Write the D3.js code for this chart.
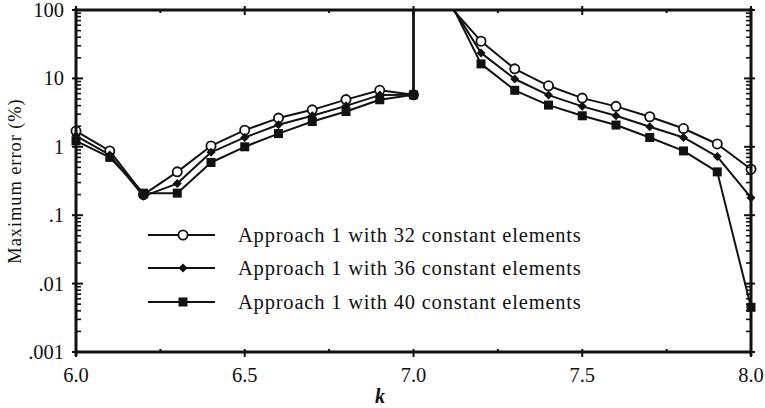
<!DOCTYPE html>
<html>
<head>
<meta charset="utf-8">
<script src="https://cdn.jsdelivr.net/npm/d3@7/dist/d3.min.js"></script>
<style>
  html, body { margin: 0; padding: 0; background: #fff; }
  svg text { font-family: "Liberation Serif", "Times New Roman", serif; fill: #111; }
</style>
</head>
<body>
<svg id="chart" width="765" height="408"></svg>
<script>
// Wave number k, sampled every 0.1
const kValues = [6.0, 6.1, 6.2, 6.3, 6.4, 6.5, 6.6, 6.7, 6.8, 6.9, 7.0,
                 7.1, 7.2, 7.3, 7.4, 7.5, 7.6, 7.7, 7.8, 7.9, 8.0];

// Maximum error (%) for each element count
const err32 = [1.7, 0.87, 0.2, 0.43, 1.03, 1.75, 2.63, 3.47, 4.9, 6.7, 5.75,
               125, 35, 13.8, 7.8, 5.15, 3.9, 2.75, 1.85, 1.1, 0.47];
const err36 = [1.45, 0.76, 0.19, 0.29, 0.83, 1.37, 2.1, 2.84, 3.97, 5.7, 5.75,
               145, 23.6, 9.8, 5.7, 3.9, 2.84, 1.96, 1.37, 0.72, 0.18];
const err40 = [1.22, 0.70, 0.21, 0.21, 0.59, 1.0, 1.56, 2.34, 3.28, 4.87, 5.75,
               160, 16.3, 6.7, 4.07, 2.84, 2.08, 1.37, 0.87, 0.43, 0.0045];

// Resonance at k = 7.0: the error blows up just past this point
const poleK = 7.0;
const poleValue = 1e5;

const seriesNames = ["Approach 1 with 32 constant elements",
                     "Approach 1 with 36 constant elements",
                     "Approach 1 with 40 constant elements"];
const seriesSymbols = ["circle", "diamond", "square"];

const yTickValues = [0.001, 0.01, 0.1, 1, 10, 100];
const yTickLabels = [".001", ".01", ".1", "1", "10", "100"];
const xTickValues = [6.0, 6.5, 7.0, 7.5, 8.0];
const xTickLabels = ["6.0", "6.5", "7.0", "7.5", "8.0"];

const svg = d3.select("#chart");
const pLeft = 76, pRight = 751, pTop = 10, pBottom = 352;

const x = d3.scaleLinear().domain([6, 8]).range([pLeft, pRight]);
const y = d3.scaleLog().domain([0.001, 100]).range([pBottom, pTop]);

svg.append("defs").append("clipPath").attr("id", "plotClip")
  .append("rect").attr("x", pLeft - 8).attr("y", pTop).attr("width", pRight - pLeft + 16).attr("height", pBottom - pTop);

const series = [err32, err36, err40].map((vals, i) => ({
  name: seriesNames[i],
  symbol: seriesSymbols[i],
  points: kValues.map((k, j) => ({ k, v: vals[j] }))
}));

// Line path including the jump to the pole at k = 7.0
function pathPoints(points) {
  const out = [];
  points.forEach(p => {
    out.push(p);
    if (p.k === poleK) out.push({ k: poleK, v: poleValue, pole: true });
  });
  return out;
}

const line = d3.line().x(d => x(d.k)).y(d => y(d.v));

const plot = svg.append("g").attr("clip-path", "url(#plotClip)");

series.forEach(s => {
  plot.append("path")
    .datum(pathPoints(s.points))
    .attr("d", line)
    .attr("fill", "none")
    .attr("stroke", "#111")
    .attr("stroke-width", 2)
    .attr("stroke-linejoin", "round");
});

function drawSymbol(g, type, cx, cy) {
  if (type === "circle") {
    g.append("circle").attr("cx", cx).attr("cy", cy).attr("r", 4.6)
      .attr("fill", "#fff").attr("stroke", "#111").attr("stroke-width", 1.8);
  } else if (type === "diamond") {
    g.append("path")
      .attr("d", "M0,-4.5L4.5,0L0,4.5L-4.5,0Z")
      .attr("transform", `translate(${cx},${cy})`)
      .attr("fill", "#111");
  } else {
    g.append("rect").attr("x", cx - 4.5).attr("y", cy - 4.5).attr("width", 9).attr("height", 9)
      .attr("fill", "#111");
  }
}

series.forEach(s => {
  const g = plot.append("g");
  s.points.forEach(p => drawSymbol(g, s.symbol, x(p.k), y(p.v)));
});

// Frame
const axes = svg.append("g").attr("stroke", "#111").attr("fill", "none");
axes.append("line").attr("x1", pLeft).attr("x2", pRight).attr("y1", pBottom).attr("y2", pBottom).attr("stroke-width", 3);
axes.append("line").attr("x1", pLeft).attr("x2", pRight).attr("y1", pTop).attr("y2", pTop).attr("stroke-width", 3);
axes.append("line").attr("x1", pLeft).attr("x2", pLeft).attr("y1", pTop - 2).attr("y2", pBottom + 4).attr("stroke-width", 3);
axes.append("line").attr("x1", pRight).attr("x2", pRight).attr("y1", pTop - 2).attr("y2", pBottom + 4).attr("stroke-width", 3);

// Log minor ticks on both vertical axes
const minorY = [];
for (let d = -3; d < 2; d++) for (let m = 2; m <= 9; m++) minorY.push(m * Math.pow(10, d));

[pLeft, pRight].forEach((ax, side) => {
  const dir = side === 0 ? 1 : -1;
  minorY.forEach(v => {
    axes.append("line").attr("x1", ax - 1 * dir).attr("x2", ax + 5 * dir)
      .attr("y1", y(v)).attr("y2", y(v)).attr("stroke-width", 1.6);
  });
  yTickValues.forEach(v => {
    axes.append("line").attr("x1", ax - 4 * dir).attr("x2", ax + 7 * dir)
      .attr("y1", y(v)).attr("y2", y(v)).attr("stroke-width", 2);
  });
});

// x ticks: majors every 0.5, minors every 0.25
d3.range(6, 8.001, 0.25).forEach(v => {
  const major = Math.abs(v * 2 - Math.round(v * 2)) < 1e-6;
  axes.append("line").attr("x1", x(v)).attr("x2", x(v))
    .attr("y1", pBottom - 3).attr("y2", pBottom + (major ? 5 : 1)).attr("stroke-width", 2);
  axes.append("line").attr("x1", x(v)).attr("x2", x(v))
    .attr("y1", pTop - (major ? 4 : 1)).attr("y2", pTop + (major ? 5 : 3)).attr("stroke-width", 2);
});

// Tick labels
yTickValues.forEach((v, i) => {
  svg.append("text").attr("x", 64).attr("y", y(v) + 7)
    .attr("text-anchor", "end").attr("font-size", 20.5)
    .text(yTickLabels[i]);
});
xTickValues.forEach((v, i) => {
  svg.append("text").attr("x", x(v)).attr("y", 382)
    .attr("text-anchor", "middle").attr("font-size", 20.5)
    .text(xTickLabels[i]);
});

// Axis titles
svg.append("text").attr("x", 380).attr("y", 403)
  .attr("text-anchor", "middle").attr("font-size", 20)
  .attr("font-style", "italic").attr("font-weight", "bold").text("k");
svg.append("text")
  .attr("transform", "translate(21,181) rotate(-90)")
  .attr("text-anchor", "middle").attr("font-size", 18.5)
  .attr("letter-spacing", 0.9)
  .text("Maximum error (%)");

// Legend
const legendRows = [235, 268, 302];
series.forEach((s, i) => {
  const g = svg.append("g");
  g.append("line").attr("x1", 148).attr("x2", 215)
    .attr("y1", legendRows[i]).attr("y2", legendRows[i])
    .attr("stroke", "#111").attr("stroke-width", 2);
  drawSymbol(g, s.symbol, 183, legendRows[i]);
  g.append("text").attr("x", 238).attr("y", legendRows[i] + 7)
    .attr("font-size", 20.5).attr("letter-spacing", 0.8)
    .text(s.name);
});
</script>
</body>
</html>
